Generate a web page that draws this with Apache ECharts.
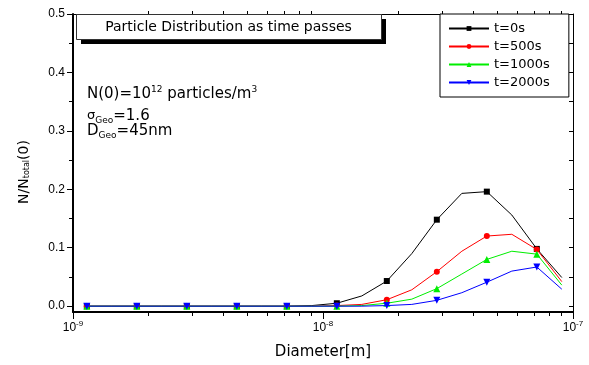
<!DOCTYPE html>
<html><head><meta charset="utf-8">
<script src="https://cdn.jsdelivr.net/npm/echarts@6/dist/echarts.min.js"></script>
<style>html,body{margin:0;padding:0;background:#fff}#c{width:589px;height:365px}</style>
</head><body><div id="c"></div>
<script>
// Diameters (m), log-spaced bins
const diameters = [1.136e-9, 1.430e-9, 1.800e-9, 2.266e-9, 2.853e-9, 3.592e-9, 4.522e-9, 5.692e-9, 7.166e-9, 9.021e-9,
                   1.136e-8, 1.430e-8, 1.800e-8, 2.266e-8, 2.853e-8, 3.592e-8, 4.522e-8, 5.692e-8, 7.166e-8, 9.021e-8];
const seriesNames = ['t=0s', 't=500s', 't=1000s', 't=2000s'];
const t0    = [0, 0, 0, 0, 0, 0, 0, 0, 0, 0.001, 0.005, 0.0175, 0.043, 0.090, 0.148, 0.193, 0.196, 0.156, 0.098, 0.049];
const t500  = [0, 0, 0, 0, 0, 0, 0, 0, 0, 0, 0.001, 0.003, 0.011, 0.028, 0.059, 0.094, 0.120, 0.123, 0.097, 0.042];
const t1000 = [0, 0, 0, 0, 0, 0, 0, 0, 0, 0, 0, 0.001, 0.005, 0.012, 0.030, 0.055, 0.080, 0.094, 0.089, 0.036];
const t2000 = [0, 0, 0, 0, 0, 0, 0, 0, 0, 0, 0, 0, 0.001, 0.003, 0.010, 0.023, 0.041, 0.060, 0.067, 0.029];
const yTicks = [0, 0.1, 0.2, 0.3, 0.4, 0.5];
const yMinorTicks = [0.05, 0.15, 0.25, 0.35, 0.45];
const yAllTicks = [0, 0.05, 0.1, 0.15, 0.2, 0.25, 0.3, 0.35, 0.4, 0.45, 0.5];
const xMajorTicks = [1e-9, 1e-8, 1e-7];
const xMinorTicks = [2e-9, 3e-9, 4e-9, 5e-9, 6e-9, 7e-9, 8e-9, 9e-9, 2e-8, 3e-8, 4e-8, 5e-8, 6e-8, 7e-8, 8e-8, 9e-8];

const colors = ['#000000', '#ff0000', '#00ee00', '#0000ff'];
const symbols = ['rect', 'circle', 'triangle', 'path://M0,0L10,0L5,9Z'];
const symbolSizes = [6, 6, 7, 7];
const values = [t0, t500, t1000, t2000];

const TF = 'DejaVu Sans';
const LF = 'Liberation Sans';

const chart = echarts.init(document.getElementById('c'), null, {renderer: 'canvas'});

const series = values.map((vals, s) => ({
  name: seriesNames[s],
  type: 'line',
  xAxisIndex: 0, yAxisIndex: 0,
  symbol: symbols[s],
  symbolSize: symbolSizes[s],
  showAllSymbol: true,
  color: colors[s],
  lineStyle: {width: 1, color: colors[s]},
  itemStyle: {color: colors[s]},
  z: 3 + s,
  data: diameters.map((d, i) => (i % 2 === 0 ? {value: [d, vals[i]]} : {value: [d, vals[i]], symbol: 'none'}))
}));

const xBase = {type: 'log', logBase: 10, min: 1e-9, max: 1e-7, gridIndex: 0, splitLine: {show: false}, minorTick: {show: false}};
const yBase = {type: 'value', min: -0.01, max: 0.5, gridIndex: 0, splitLine: {show: false}, minorTick: {show: false}};

chart.setOption({
  animation: false,
  backgroundColor: '#fff',
  grid: {left: 73, right: 16, top: 14, bottom: 51, containLabel: false},
  xAxis: [
    Object.assign({}, xBase, {
      position: 'bottom',
      name: 'Diameter[m]', nameLocation: 'middle', nameGap: 33,
      nameTextStyle: {fontFamily: TF, fontSize: 15, color: '#000'},
      axisLine: {onZero: false, lineStyle: {color: '#000', width: 2}},
      axisTick: {length: 7, lineStyle: {color: '#000', width: 1}, customValues: xMajorTicks},
      axisLabel: {
        customValues: xMajorTicks, margin: 8, color: '#000',
        formatter: v => '{b|10}{s|' + Math.round(Math.log10(v)) + '}',
        rich: {b: {fontFamily: LF, fontSize: 12, color: '#000', lineHeight: 14, verticalAlign: 'bottom'},
               s: {fontFamily: LF, fontSize: 8, color: '#000', lineHeight: 8, verticalAlign: 'top'}}
      }
    }),
    Object.assign({}, xBase, {
      position: 'bottom',
      axisLine: {show: false, onZero: false},
      axisTick: {length: 4, lineStyle: {color: '#000', width: 1}, customValues: xMinorTicks},
      axisLabel: {show: false}
    }),
    Object.assign({}, xBase, {
      position: 'top',
      axisLine: {onZero: false, lineStyle: {color: '#000', width: 1}},
      axisTick: {length: 3, lineStyle: {color: '#000', width: 1}, customValues: xMinorTicks},
      axisLabel: {show: false}
    })
  ],
  yAxis: [
    Object.assign({}, yBase, {
      position: 'left',
      name: 'N/N{sub|total}(0)', nameLocation: 'middle', nameGap: 42, nameRotate: 90,
      nameTextStyle: {fontFamily: TF, fontSize: 14, color: '#000', padding: [0, 18, 0, 0],
        rich: {sub: {fontFamily: TF, fontSize: 8, color: '#000', verticalAlign: 'bottom', lineHeight: 9}}},
      axisLine: {onZero: false, lineStyle: {color: '#000', width: 2}},
      axisTick: {length: 6, lineStyle: {color: '#000', width: 1}, customValues: yTicks},
      axisLabel: {customValues: yTicks, margin: 8, fontFamily: LF, fontSize: 12, color: '#000',
        formatter: v => v.toFixed(1)}
    }),
    Object.assign({}, yBase, {
      position: 'left',
      axisLine: {show: false, onZero: false},
      axisTick: {length: 4, lineStyle: {color: '#000', width: 1}, customValues: yMinorTicks},
      axisLabel: {show: false}
    }),
    Object.assign({}, yBase, {
      position: 'right',
      axisLine: {onZero: false, lineStyle: {color: '#000', width: 1}},
      axisTick: {inside: true, length: 4, lineStyle: {color: '#000', width: 1}, customValues: yAllTicks},
      axisLabel: {show: false}
    })
  ],
  legend: {
    orient: 'vertical', left: 440, top: 14,
    data: seriesNames,
    backgroundColor: '#fff', borderColor: '#000', borderWidth: 1,
    padding: [8, 19, 8, 8], itemGap: 5, itemWidth: 40, itemHeight: 6,
    textStyle: {fontFamily: TF, fontSize: 13, color: '#000'}
  },
  graphic: [
    {type: 'rect', left: 81, top: 19, shape: {width: 305, height: 25}, style: {fill: '#000'}, z: 10},
    {type: 'rect', left: 76, top: 14, shape: {width: 305, height: 25}, style: {fill: '#fff', stroke: '#333', lineWidth: 1}, z: 11},
    {type: 'text', x: 228.5, y: 27, z: 12,
      style: {text: 'Particle Distribution as time passes', fontFamily: TF, fontSize: 14, fill: '#000', align: 'center', verticalAlign: 'middle'}},
    {type: 'text', x: 87, y: 85, z: 12,
      style: {text: '{n|N(0)=10}{sup|12}{n| particles/m}{sup|3}', fill: '#000',
        rich: {n: {fontFamily: TF, fontSize: 15, lineHeight: 18}, sup: {fontFamily: TF, fontSize: 9, lineHeight: 9, verticalAlign: 'top'}}}},
    {type: 'text', x: 87, y: 107, z: 12,
      style: {text: '{g|σ}{sub|Geo}{n|=1.6}', fill: '#000',
        rich: {g: {fontFamily: TF, fontSize: 13, lineHeight: 18}, n: {fontFamily: TF, fontSize: 15, lineHeight: 18}, sub: {fontFamily: TF, fontSize: 9, lineHeight: 9, verticalAlign: 'bottom'}}}},
    {type: 'text', x: 87, y: 122, z: 12,
      style: {text: '{n|D}{sub|Geo}{n|=45nm}', fill: '#000',
        rich: {n: {fontFamily: TF, fontSize: 15, lineHeight: 18}, sub: {fontFamily: TF, fontSize: 9, lineHeight: 9, verticalAlign: 'bottom'}}}}
  ],
  series: series
});
</script>
</body></html>
